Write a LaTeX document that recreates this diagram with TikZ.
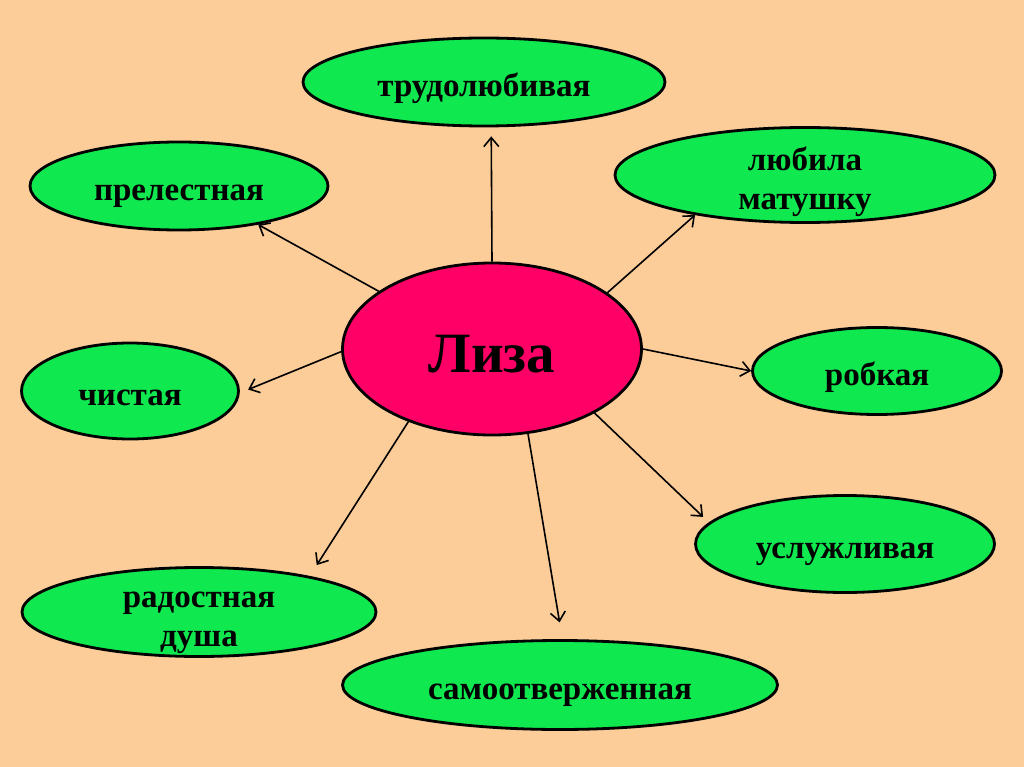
\documentclass[tikz,border=0pt]{standalone}
\usepackage{fontspec}
\setmainfont{Liberation Serif}
\usetikzlibrary{shapes.geometric,arrows.meta}
\definecolor{bgpeach}{RGB}{252,204,153}
\definecolor{leafgreen}{RGB}{16,232,80}
\definecolor{centerpink}{RGB}{255,0,102}
\newcommand{\lbltext}[1]{\raisebox{-13pt}[0pt][0pt]{\begin{tabular}{@{}c@{}}#1\end{tabular}}}
\tikzset{
  leaf/.style={ellipse, draw=black, line width=2.8pt, fill=leafgreen, inner sep=0pt,
    font=\bfseries\fontsize{33}{39}\selectfont},
  hub/.style={ellipse, draw=black, line width=2.8pt, fill=centerpink, inner sep=0pt,
    font=\bfseries\fontsize{57}{62}\selectfont},
  link/.style={-{Straight Barb[length=9pt,width=15pt,line width=1.6pt]}, line width=1.6pt, draw=black}
}
\begin{document}
\begin{tikzpicture}[x=1pt,y=-1pt]
\fill[bgpeach] (0,0) rectangle (1024,767);
\useasboundingbox (0,0) rectangle (1024,767);

\node[hub, minimum width=299pt, minimum height=172pt] (liza) at (492,349) {\raisebox{-23pt}[0pt][0pt]{Лиза}};

\node[leaf, minimum width=362pt, minimum height=88pt] (trud) at (484,82) {\lbltext{трудолюбивая}};
\node[leaf, minimum width=298pt, minimum height=88pt] (prel) at (179,186) {\lbltext{прелестная}};
\node[leaf, minimum width=380pt, minimum height=95pt] (lub) at (805,175) {\lbltext{любила\\матушку}};
\node[leaf, minimum width=217pt, minimum height=96pt] (chist) at (130,391) {\lbltext{чистая}};
\node[leaf, minimum width=249pt, minimum height=87pt] (robk) at (877,371) {\lbltext{робкая}};
\node[leaf, minimum width=299pt, minimum height=97pt] (usl) at (845,544) {\lbltext{услужливая}};
\node[leaf, minimum width=354pt, minimum height=89pt] (rad) at (199,612) {\lbltext{радостная\\душа}};
\node[leaf, minimum width=435pt, minimum height=89pt] (sam) at (560,685) {\lbltext{самоотверженная}};

\draw[link, shorten >=9pt] (liza.90) -- (trud.-81);
\draw[link] (liza.153) -- (prel.-26.3);
\draw[link] (liza.26) -- (lub.200.2);
\draw[link, shorten >=9pt] (liza.181.5) -- (chist.-1.6);
\draw[link] (liza.0) -- (robk.180);
\draw[link, shorten >=8pt] (liza.-32) -- (usl.171.4);
\draw[link, shorten >=17pt] (liza.-67.4) -- (sam.87.4);
\draw[link, shorten >=13pt] (liza.-139.3) -- (rad.18);
\end{tikzpicture}
\end{document}
